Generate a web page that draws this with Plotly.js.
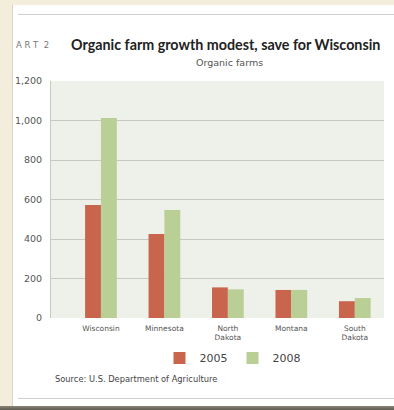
<!DOCTYPE html>
<html>
<head>
<meta charset="utf-8">
<script src="https://cdn.plot.ly/plotly-3.0.1.min.js"></script>
<style>
  html, body { margin:0; padding:0; width:394px; height:410px; overflow:hidden; background:#f3eedc; }
  #panel { position:absolute; left:12px; top:5px; width:390px; height:403px; background:#ffffff; border-left:1px solid #d8d4c6; }
  #rtop { position:absolute; left:18px; top:14px; width:380px; height:1px; background:#cfcfcf; }
  #rbot { position:absolute; left:18px; top:398px; width:380px; height:1px; background:#cfcfcf; }
  #shadow { position:absolute; left:0; top:406px; width:394px; height:4px; background:linear-gradient(#8a8577,#5f5a50); }
  #chart { position:absolute; left:0; top:0; width:394px; height:410px; }
</style>
</head>
<body>
<div id="panel"></div>
<div id="rtop"></div>
<div id="rbot"></div>
<div id="shadow"></div>
<div id="chart"></div>
<script>
const categories = ["Wisconsin", "Minnesota", "North<br>Dakota", "Montana", "South<br>Dakota"];
const farms2005 = [572, 425, 155, 142, 85];
const farms2008 = [1013, 547, 145, 142, 101];
const yTicks = [0, 200, 400, 600, 800, 1000, 1200];
const yTickText = ["0", "200", "400", "600", "800", "1,000", "1,200"];

const titleFam = "Lato, 'Noto Sans', sans-serif";
const smallFam = "'DejaVu Sans', sans-serif";

const traces = [
  { type: "bar", name: "2005", x: categories, y: farms2005, marker: { color: "#c9654c" } },
  { type: "bar", name: "2008", x: categories, y: farms2008, marker: { color: "#b9cf95" } }
];

const layout = {
  width: 394, height: 410,
  margin: { l: 51, r: 10, t: 81, b: 92 },
  paper_bgcolor: "rgba(0,0,0,0)",
  plot_bgcolor: "#eef0ea",
  barmode: "group",
  bargap: 0.5,
  bargroupgap: 0,
  showlegend: true,
  legend: {
    orientation: "h", x: 0.545, xanchor: "center", y: -0.169, yanchor: "middle",
    font: { family: smallFam, size: 11, color: "#444" },
    itemwidth: 30, bgcolor: "rgba(0,0,0,0)", traceorder: "normal"
  },
  xaxis: {
    type: "category",
    range: [-0.787, 4.46],
    showgrid: false, zeroline: false, showline: false,
    ticks: "", ticklabelstandoff: 4,
    tickfont: { family: smallFam, size: 7.5, color: "#555" }
  },
  yaxis: {
    range: [0, 1200],
    tickvals: yTicks, ticktext: yTickText,
    showgrid: true, gridcolor: "#c9c9c4", gridwidth: 1,
    zeroline: false,
    showline: true, linecolor: "#c9c9c4", linewidth: 1,
    ticks: "", ticklabelstandoff: 6,
    tickfont: { family: smallFam, size: 9.5, color: "#555" }
  },
  annotations: [
    { xref: "paper", yref: "paper", x: 0.055, y: 1.152, xanchor: "left", yanchor: "middle",
      text: "<b>Organic farm growth modest, save for Wisconsin</b>", showarrow: false,
      font: { family: titleFam, size: 14.3, color: "#222" } },
    { xref: "paper", yref: "paper", x: -0.11, y: 1.152, xanchor: "left", yanchor: "middle",
      text: "A R T  2", showarrow: false,
      font: { family: smallFam, size: 8.5, color: "#777" } },
    { xref: "paper", yref: "paper", x: 0.536, y: 1.08, xanchor: "center", yanchor: "middle",
      text: "Organic farms", showarrow: false,
      font: { family: smallFam, size: 9.5, color: "#555" } },
    { xref: "paper", yref: "paper", x: 0.006, y: -0.258, xanchor: "left", yanchor: "middle",
      text: "Source: U.S. Department of Agriculture", showarrow: false,
      font: { family: smallFam, size: 8.3, color: "#444" } }
  ]
};

Plotly.newPlot("chart", traces, layout, { staticPlot: true, displayModeBar: false });
</script>
</body>
</html>
